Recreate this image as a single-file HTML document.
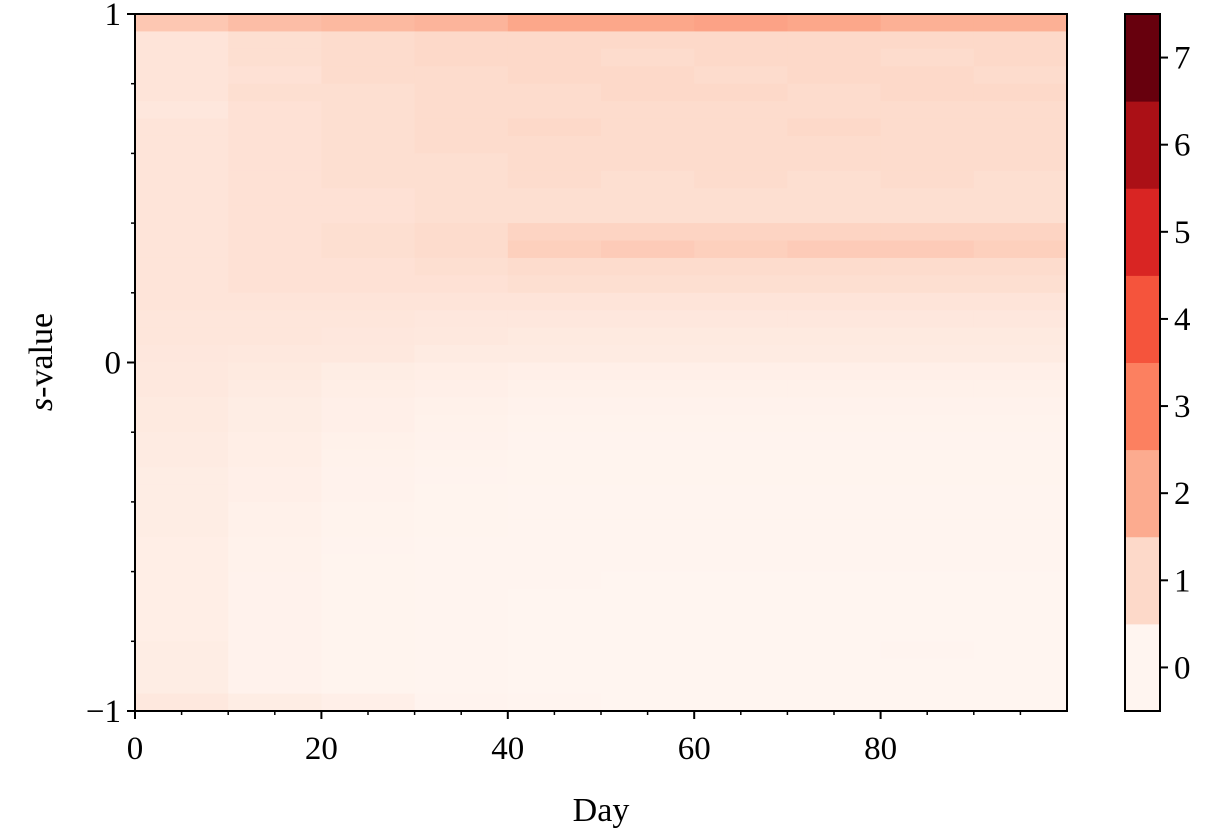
<!DOCTYPE html>
<html><head><meta charset="utf-8">
<style>
html,body{margin:0;padding:0;background:#fff;}
svg{display:block;font-family:"Liberation Serif","DejaVu Serif",serif;}
</style></head>
<body>
<svg id="chart" width="1208" height="831" viewBox="0 0 1208 831">
<g id="cells"></g>
<g id="axes"></g>
<g id="cbar"></g>
</svg>
<script>
// Mean counts per (s-value row, 10-day block); rows top (s=1) to bottom (s=-1)
const dayBlocks = [0,10,20,30,40,50,60,70,80,90];
const rowValues = [
[1.4,1.6,1.7,1.8,2.1,2.1,2.2,2.1,1.9,1.9],
[0.6,0.8,0.9,1.0,1.0,1.0,1.0,1.0,1.0,1.0],
[0.6,0.8,0.9,1.0,1.0,0.9,1.0,1.0,0.9,1.0],
[0.6,0.7,0.9,0.9,1.0,1.0,0.9,1.0,1.0,0.9],
[0.6,0.8,0.8,0.9,0.9,1.0,1.0,0.9,1.0,1.0],
[0.5,0.7,0.8,0.9,0.9,0.9,0.9,0.9,0.9,0.9],
[0.6,0.7,0.8,0.9,1.0,0.9,0.9,1.0,0.9,0.9],
[0.6,0.7,0.8,0.9,0.9,0.9,0.9,0.9,0.9,0.9],
[0.6,0.7,0.8,0.8,0.9,0.9,0.9,0.9,0.9,0.9],
[0.6,0.7,0.8,0.8,0.9,0.8,0.9,0.8,0.9,0.8],
[0.6,0.7,0.7,0.8,0.8,0.8,0.8,0.8,0.8,0.8],
[0.6,0.7,0.7,0.8,0.8,0.8,0.8,0.8,0.8,0.8],
[0.6,0.7,0.8,0.9,1.1,1.1,1.1,1.1,1.1,1.1],
[0.6,0.7,0.8,0.9,1.2,1.3,1.2,1.3,1.3,1.2],
[0.6,0.7,0.7,0.8,0.9,0.9,0.9,0.9,0.9,0.9],
[0.6,0.7,0.7,0.7,0.8,0.8,0.8,0.8,0.8,0.8],
[0.6,0.6,0.6,0.6,0.6,0.6,0.6,0.6,0.6,0.6],
[0.55,0.55,0.55,0.5,0.5,0.5,0.5,0.5,0.5,0.5],
[0.55,0.55,0.5,0.45,0.4,0.4,0.4,0.4,0.4,0.4],
[0.5,0.45,0.45,0.35,0.35,0.35,0.35,0.35,0.35,0.35],
[0.45,0.4,0.3,0.25,0.2,0.2,0.2,0.2,0.2,0.2],
[0.45,0.35,0.25,0.2,0.15,0.15,0.15,0.15,0.15,0.15],
[0.4,0.3,0.2,0.15,0.1,0.1,0.1,0.1,0.1,0.1],
[0.4,0.3,0.2,0.12,0.08,0.08,0.08,0.08,0.08,0.08],
[0.35,0.25,0.15,0.1,0.06,0.06,0.06,0.06,0.06,0.06],
[0.35,0.25,0.12,0.08,0.05,0.05,0.05,0.05,0.05,0.05],
[0.3,0.2,0.1,0.06,0.04,0.04,0.04,0.04,0.04,0.04],
[0.3,0.2,0.1,0.05,0.03,0.03,0.03,0.03,0.03,0.03],
[0.3,0.15,0.08,0.04,0.03,0.02,0.02,0.02,0.02,0.02],
[0.3,0.15,0.07,0.04,0.02,0.02,0.02,0.02,0.02,0.02],
[0.25,0.12,0.06,0.03,0.02,0.02,0.02,0.02,0.02,0.02],
[0.25,0.12,0.05,0.03,0.02,0.02,0.02,0.02,0.02,0.02],
[0.25,0.1,0.05,0.02,0.02,0.01,0.01,0.01,0.01,0.01],
[0.25,0.1,0.05,0.02,0.01,0.01,0.01,0.01,0.01,0.01],
[0.25,0.1,0.04,0.02,0.01,0.01,0.01,0.01,0.01,0.01],
[0.25,0.1,0.04,0.02,0.01,0.01,0.01,0.01,0.01,0.01],
[0.3,0.1,0.04,0.02,0.01,0.01,0.01,0.01,0.02,0.01],
[0.3,0.1,0.04,0.02,0.01,0.01,0.01,0.01,0.01,0.01],
[0.3,0.1,0.05,0.02,0.01,0.01,0.01,0.01,0.01,0.01],
[0.45,0.3,0.2,0.06,0.02,0.01,0.01,0.01,0.01,0.01]
];
const xTicks = [0,20,40,60,80];
const yTickLabels = ["\u22121","0","1"];
const yTickValues = [-1,0,1];
const cbarLabels = ["0","1","2","3","4","5","6","7"];
const cbarColors = ["#fff5f0","#fdd9c9","#fcab8f","#fc8060","#f5543c","#d92523","#ab1016","#67000d"];

const L=135,R=1067,T=14,B=711;
const xs=d=>L+(R-L)*d/100;
const ys=s=>B-(B-T)*(s+1)/2;
const NS="http://www.w3.org/2000/svg";
function mk(tag,attrs,parent){const e=document.createElementNS(NS,tag);for(const k in attrs)e.setAttribute(k,attrs[k]);parent.appendChild(e);return e;}
function hex(c){return [parseInt(c.slice(1,3),16),parseInt(c.slice(3,5),16),parseInt(c.slice(5,7),16)];}
function color(v){v=Math.max(0,Math.min(7,v));const i=Math.min(6,Math.floor(v)),f=v-i;const a=hex(cbarColors[i]),b=hex(cbarColors[i+1]);return "rgb("+a.map((x,j)=>Math.round(x+(b[j]-x)*f)).join(",")+")";}

const cells=document.getElementById('cells');
const nRows=rowValues.length;
rowValues.forEach((row,ri)=>{
  const s1=1-2*ri/nRows, s0=1-2*(ri+1)/nRows;
  row.forEach((v,ci)=>{
    const d0=dayBlocks[ci], d1=ci+1<dayBlocks.length?dayBlocks[ci+1]:100;
    const r=mk('rect',{x:xs(d0),y:ys(s1),width:xs(d1)-xs(d0)+0.5,height:ys(s0)-ys(s1)+0.5,fill:color(v)},cells);
    
    
  });
});

const ax=document.getElementById('axes');
mk('rect',{x:L,y:T,width:R-L,height:B-T,fill:'none',stroke:'#000','stroke-width':2},ax);
for(let d=0;d<100;d+=5){const major=d%20===0;mk('line',{x1:xs(d),x2:xs(d),y1:B,y2:B+(major?8:4),stroke:'#000','stroke-width':major?2:1.5},ax);}
xTicks.forEach(d=>{const t=mk('text',{x:xs(d),y:B+48,'text-anchor':'middle','font-size':33},ax);t.textContent=d;

});
for(let k=0;k<=10;k++){const s=-1+k*0.2;const major=k%5===0;mk('line',{x1:L,x2:L-(major?8:4),y1:ys(s),y2:ys(s),stroke:'#000','stroke-width':major?2:1.5},ax);}
yTickValues.forEach((s,i)=>{const t=mk('text',{x:L-14,y:ys(s)+11,'text-anchor':'end','font-size':33},ax);t.textContent=yTickLabels[i];

});
const xl=mk('text',{x:(L+R)/2,y:821,'text-anchor':'middle','font-size':34},ax);xl.textContent='Day';


const yl=mk('text',{x:0,y:0,'text-anchor':'middle','font-size':34,transform:'translate(52,362) rotate(-90)'},ax);
yl.innerHTML='<tspan font-style="italic">s</tspan>-value';



const cb=document.getElementById('cbar');
const CL=1125,CR=1160,n=cbarColors.length,bh=(B-T)/n;
cbarColors.forEach((c,i)=>{const r=mk('rect',{x:CL,y:B-(i+1)*bh,width:CR-CL,height:bh+0.5,fill:c},cb);


mk('line',{x1:CR,x2:CR+8,y1:B-(i+0.5)*bh,y2:B-(i+0.5)*bh,stroke:'#000','stroke-width':2},cb);
const t=mk('text',{x:CR+14,y:B-(i+0.5)*bh+11,'font-size':33},cb);t.textContent=cbarLabels[i];

});
mk('rect',{x:CL,y:T,width:CR-CL,height:B-T,fill:'none',stroke:'#000','stroke-width':2},cb);
</script>
</body></html>
